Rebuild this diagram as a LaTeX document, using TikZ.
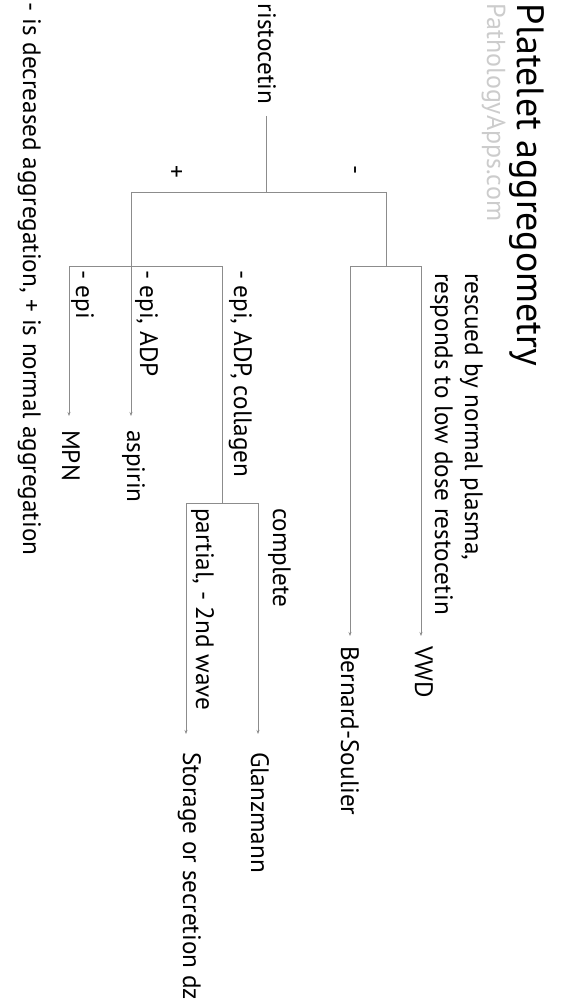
\documentclass[tikz,border=0pt]{standalone}
\usepackage{fontspec}
\setmainfont{PT Sans}
\usetikzlibrary{arrows.meta}
\begin{document}
\begin{tikzpicture}[x=1pt,y=-1pt,
  lbl/.style={rotate=-90, anchor=base west, inner sep=0pt, outer sep=0pt, font=\fontsize{25.2}{30}\selectfont},
  ttl/.style={lbl, font=\fontsize{38}{42}\selectfont},
  web/.style={lbl, font=\fontsize{26}{30}\selectfont, text=black!20},
  sign/.style={lbl, anchor=center},
  ln/.style={draw=black!45, line width=0.8pt},
  arr/.style={ln, -{Stealth[length=4pt,width=3pt]}}]
\useasboundingbox[fill=white] (0,0) rectangle (563,1000);
% texts
\node[ttl] (title) at (517,4) {Platelet aggregometry};
\node[web] (site) at (487,4) {PathologyApps.com};
\node[lbl] (risto) at (258,4) {ristocetin};
\node[lbl] (legend) at (23,3) {- is decreased aggregation, + is normal aggregation};
\node[sign] (plus) at (175,172) {+};
\node[sign] (minus) at (352,170) {-};
\node[lbl] (rescued) at (465,273) {rescued by normal plasma,};
\node[lbl] (responds) at (435,273) {responds to low dose restocetin};
\node[lbl] (vwd) at (415,646) {VWD};
\node[lbl] (bs) at (341,646) {Bernard-Soulier};
\node[lbl] (epiadpcol) at (234,270) {- epi, ADP, collagen};
\node[lbl] (complete) at (273,508) {complete};
\node[lbl] (partial) at (196,508) {partial, - 2nd wave};
\node[lbl] (glanz) at (251,752) {Glanzmann};
\node[lbl] (storage) at (183,752) {Storage or secretion dz};
\node[lbl] (epiadp) at (140,270) {- epi, ADP};
\node[lbl] (aspirin) at (127,430) {aspirin};
\node[lbl] (epi) at (76,270) {- epi};
\node[lbl] (mpn) at (62,430) {MPN};
% junctions
\coordinate (r0) at (266,116);
\coordinate (j0) at (266,192);
\coordinate (jl) at (131,192);
\coordinate (jr) at (386,192);
\coordinate (jr2) at (386,266);
\coordinate (vl) at (350,266);
\coordinate (vr) at (421,266);
\coordinate (vwdtip) at (421,636);
\coordinate (bstip) at (350,636);
\coordinate (epiL) at (69,266);
\coordinate (colL) at (222,266);
\coordinate (asptip) at (131,416);
\coordinate (mpntip) at (69,416);
\coordinate (col2) at (222,503);
\coordinate (cpl) at (186,503);
\coordinate (cmp) at (258,503);
\coordinate (gltip) at (258,734);
\coordinate (sttip) at (186,734);
% connectors
\draw[ln] (r0) -- (j0);
\draw[ln] (jl) -- (jr);
\draw[ln] (jr) -- (jr2);
\draw[ln] (vl) -- (vr);
\draw[arr] (vr) -- (vwdtip);
\draw[arr] (vl) -- (bstip);
\draw[arr] (jl) -- (asptip);
\draw[ln] (epiL) -- (colL);
\draw[arr] (epiL) -- (mpntip);
\draw[ln] (colL) -- (col2);
\draw[ln] (cpl) -- (cmp);
\draw[arr] (cmp) -- (gltip);
\draw[arr] (cpl) -- (sttip);
\end{tikzpicture}
\end{document}
